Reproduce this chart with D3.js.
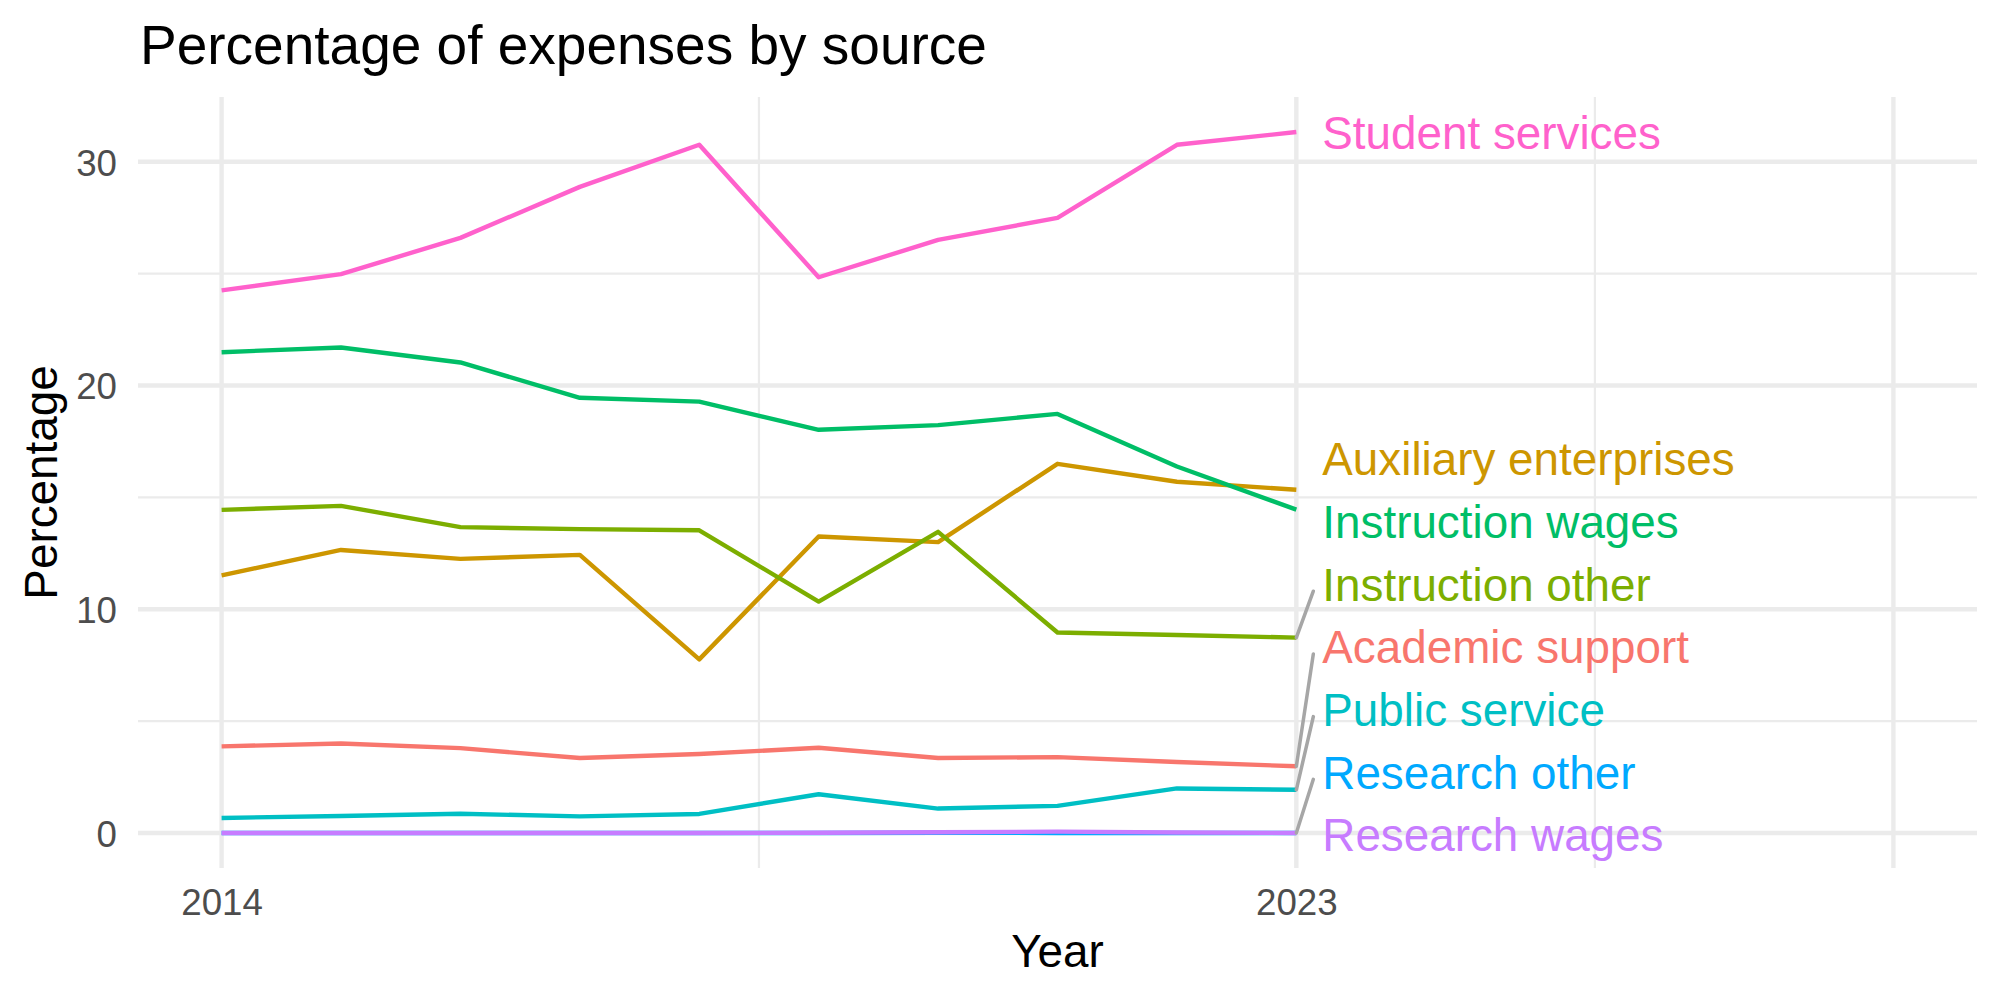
<!DOCTYPE html>
<html>
<head>
<meta charset="utf-8">
<script src="https://cdn.jsdelivr.net/npm/d3@7"></script>
<style>
  body { margin: 0; background: #ffffff; }
  svg { display: block; font-family: "Liberation Sans", Arial, sans-serif; }
  .chart-title { font-size: 55px; fill: #000000; }
  .axis-label { font-size: 45.8px; fill: #000000; }
  .tick text { font-size: 36.7px; fill: #4d4d4d; font-family: "Liberation Sans", Arial, sans-serif; }
  .series-label { font-size: 45.8px; }
</style>
</head>
<body>
<div id="chart"></div>
<script>
// Years on the x-axis and the expense sources.
const years = [2014, 2015, 2016, 2017, 2018, 2019, 2020, 2021, 2022, 2023];
const categories = ["Academic support", "Auxiliary enterprises", "Instruction other",
    "Instruction wages", "Public service", "Research other", "Research wages", "Student services"];
const colors = ["#F8766D", "#CD9600", "#7CAE00", "#00BE67", "#00BFC4", "#00A9FF", "#C77CFF", "#FF61CC"];

// Percentage values per source, one value per year.
const academicSupport = [3.87, 4.00, 3.79, 3.35, 3.53, 3.81, 3.35, 3.39, 3.17, 2.98];
const auxiliaryEnterprises = [11.51, 12.65, 12.25, 12.43, 7.76, 13.25, 13.00, 16.50, 15.70, 15.34];
const instructionOther = [14.44, 14.62, 13.67, 13.58, 13.53, 10.34, 13.46, 8.96, 8.85, 8.73];
const instructionWages = [21.49, 21.70, 21.03, 19.45, 19.28, 18.02, 18.23, 18.73, 16.38, 14.45];
const publicService = [0.67, 0.76, 0.86, 0.74, 0.85, 1.73, 1.09, 1.21, 1.99, 1.93];
const researchOther = [0, 0, 0, 0, 0, 0, 0.01, 0, 0, 0];
const researchWages = [0, 0, 0, 0, 0, 0.01, 0.03, 0.06, 0.02, 0];
const studentServices = [24.25, 24.98, 26.60, 28.88, 30.76, 24.84, 26.51, 27.49, 30.76, 31.33];

// Tick values and labels.
const xLimits = [2014, 2028];
const xTicks = [2014, 2023, 2028];
const xTickLabels = ["2014", "2023", ""];
const xMinorTicks = [2018.5, 2025.5];
const yTicks = [0, 10, 20, 30];
const yMinorTicks = [5, 15, 25];

const valueLists = [academicSupport, auxiliaryEnterprises, instructionOther, instructionWages,
    publicService, researchOther, researchWages, studentServices];

const series = categories.map(function(name, i) {
    return {
        name: name,
        order: i,
        color: colors[i],
        values: years.map(function(year, j) {
            return { year: year, value: valueLists[i][j] };
        })
    };
});

// Size of the SVG and the plot panel.
const width = 2000;
const height = 1000;
const margin = { top: 97, right: 23, bottom: 132, left: 138 };

const svg = d3.select("#chart")
    .append("svg")
    .attr("width", width)
    .attr("height", height);

// Scales with ggplot-like 5% expansion.
const xPad = (xLimits[1] - xLimits[0]) * 0.05;
const xScale = d3.scaleLinear()
    .domain([xLimits[0] - xPad, xLimits[1] + xPad])
    .range([margin.left, width - margin.right]);

const yMin = d3.min(valueLists, function(v) { return d3.min(v); });
const yMax = d3.max(valueLists, function(v) { return d3.max(v); });
const yPad = (yMax - yMin) * 0.05;
const yScale = d3.scaleLinear()
    .domain([yMin - yPad, yMax + yPad])
    .range([height - margin.bottom, margin.top]);

const panelTop = margin.top;
const panelBottom = height - margin.bottom;

// Minor grid lines.
svg.append("g")
    .selectAll("line")
    .data(xMinorTicks)
    .join("line")
    .attr("x1", function(d) { return xScale(d); })
    .attr("x2", function(d) { return xScale(d); })
    .attr("y1", panelTop)
    .attr("y2", panelBottom)
    .attr("stroke", "#ebebeb")
    .attr("stroke-width", 2.2);

svg.append("g")
    .selectAll("line")
    .data(yMinorTicks)
    .join("line")
    .attr("x1", margin.left)
    .attr("x2", width - margin.right)
    .attr("y1", function(d) { return yScale(d); })
    .attr("y2", function(d) { return yScale(d); })
    .attr("stroke", "#ebebeb")
    .attr("stroke-width", 2.2);

// Major grid lines.
svg.append("g")
    .selectAll("line")
    .data(xTicks)
    .join("line")
    .attr("x1", function(d) { return xScale(d); })
    .attr("x2", function(d) { return xScale(d); })
    .attr("y1", panelTop)
    .attr("y2", panelBottom)
    .attr("stroke", "#ebebeb")
    .attr("stroke-width", 4.4);

svg.append("g")
    .selectAll("line")
    .data(yTicks)
    .join("line")
    .attr("x1", margin.left)
    .attr("x2", width - margin.right)
    .attr("y1", function(d) { return yScale(d); })
    .attr("y2", function(d) { return yScale(d); })
    .attr("stroke", "#ebebeb")
    .attr("stroke-width", 4.4);

// Axes (labels only).
svg.append("g")
    .attr("transform", `translate(0, ${panelBottom})`)
    .call(d3.axisBottom(xScale)
        .tickValues(xTicks)
        .tickFormat(function(d, i) { return xTickLabels[i]; })
        .tickSize(0)
        .tickPadding(21))
    .call(function(g) { g.select(".domain").remove(); });

svg.append("g")
    .attr("transform", `translate(${margin.left}, 0)`)
    .call(d3.axisLeft(yScale)
        .tickValues(yTicks)
        .tickSize(0)
        .tickPadding(21))
    .call(function(g) { g.select(".domain").remove(); })
    .selectAll("text")
    .attr("dy", "0.36em");

// Lines, one per source.
const line = d3.line()
    .x(function(d) { return xScale(d.year); })
    .y(function(d) { return yScale(d.value); });

svg.append("g")
    .selectAll("path")
    .data(series)
    .join("path")
    .attr("d", function(d) { return line(d.values); })
    .attr("fill", "none")
    .attr("stroke", function(d) { return d.color; })
    .attr("stroke-width", 4.4)
    .attr("stroke-linejoin", "round");

// Repel the end labels vertically so they do not overlap.
const lastYear = years[years.length - 1];
const labelX = xScale(lastYear) + 26;
const labelGap = 62.7;
const labels = series.map(function(s) {
    const py = yScale(s.values[s.values.length - 1].value);
    return { name: s.name, order: s.order, color: s.color, py: py, y: py };
});
labels.sort(function(a, b) { return (a.py - b.py) || (a.order - b.order); });
for (let iter = 0; iter < 800; iter++) {
    for (let i = 1; i < labels.length; i++) {
        const overlap = labelGap - (labels[i].y - labels[i - 1].y);
        if (overlap > 0) {
            labels[i - 1].y -= overlap / 2;
            labels[i].y += overlap / 2;
        }
    }
    labels.forEach(function(l) {
        l.y = Math.max(panelTop + 33, Math.min(panelBottom - 33, l.y));
    });
}

// Connector segments for labels that moved away from their line end.
const segments = labels.filter(function(l) {
    const dx = labelX - 9 - xScale(lastYear);
    const dy = l.y + 7 - l.py;
    return Math.sqrt(dx * dx + dy * dy) > 40;
});

svg.append("g")
    .selectAll("line")
    .data(segments)
    .join("line")
    .attr("x1", xScale(lastYear))
    .attr("y1", function(d) { return d.py; })
    .attr("x2", labelX - 9)
    .attr("y2", function(d) { return d.y + 7; })
    .attr("stroke", "#a6a6a6")
    .attr("stroke-width", 3.5)
    .attr("stroke-linecap", "round");

svg.append("g")
    .selectAll("text")
    .data(labels)
    .join("text")
    .attr("class", "series-label")
    .attr("x", labelX)
    .attr("y", function(d) { return d.y; })
    .attr("dy", "0.36em")
    .attr("fill", function(d) { return d.color; })
    .text(function(d) { return d.name; });

// Title and axis titles.
svg.append("text")
    .attr("x", 140)
    .attr("y", 64)
    .attr("class", "chart-title")
    .text("Percentage of expenses by source");

svg.append("text")
    .attr("x", (margin.left + width - margin.right) / 2)
    .attr("y", 967)
    .attr("class", "axis-label")
    .attr("text-anchor", "middle")
    .text("Year");

svg.append("text")
    .attr("transform", `translate(57, ${(panelTop + panelBottom) / 2}) rotate(-90)`)
    .attr("class", "axis-label")
    .attr("text-anchor", "middle")
    .text("Percentage");
</script>
</body>
</html>
